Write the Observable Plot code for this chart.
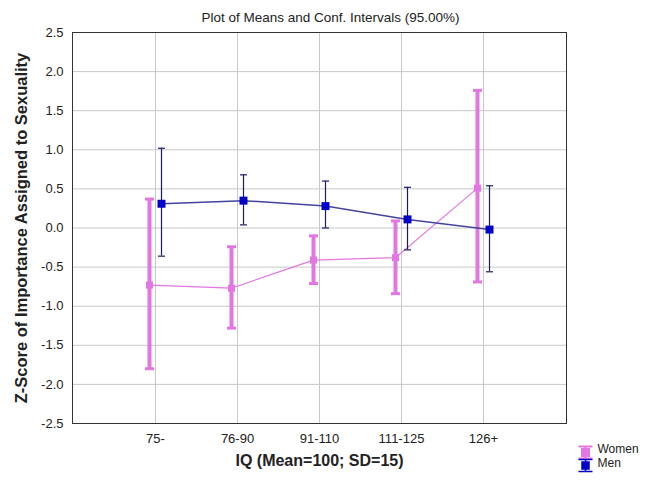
<!DOCTYPE html>
<html><head><meta charset="utf-8">
<script src="https://cdn.jsdelivr.net/npm/d3@7"></script>
<script src="https://cdn.jsdelivr.net/npm/@observablehq/plot@0.6"></script>
<style>body{margin:0;background:#fff} svg{display:block}</style>
</head><body><div id="chart"></div>
<script>
const categories = ["75-", "76-90", "91-110", "111-125", "126+"];
const seriesNames = ["Women", "Men"];
const womenMean = [-0.73, -0.77, -0.41, -0.38, 0.51];
const womenLow  = [-1.80, -1.28, -0.71, -0.84, -0.69];
const womenHigh = [0.37, -0.24, -0.10, 0.09, 1.76];
const menMean = [0.31, 0.35, 0.28, 0.11, -0.02];
const menLow  = [-0.36, 0.04, 0.00, -0.28, -0.56];
const menHigh = [1.02, 0.68, 0.60, 0.52, 0.54];
const yTicks = [2.5, 2.0, 1.5, 1.0, 0.5, 0.0, -0.5, -1.0, -1.5, -2.0, -2.5];
const titleText = "Plot of Means and Conf. Intervals (95.00%)";
const xLabel = "IQ (Mean=100; SD=15)";
const yLabel = "Z-Score of Importance Assigned to Sexuality";

const women = categories.map((c, i) => ({cat: c, mean: womenMean[i], lo: womenLow[i], hi: womenHigh[i]}));
const men = categories.map((c, i) => ({cat: c, mean: menMean[i], lo: menLow[i], hi: menHigh[i]}));

const WOMEN = "#e277e2";
const MEN_BAR = "#1c1c64";
const MEN_DOT = "#0000c8";
const MEN_LINE = "#4444a0";

const cap = {draw(ctx, size) { const r = Math.sqrt(size / Math.PI); ctx.moveTo(-r, 0); ctx.lineTo(r, 0); }};
const icon = {draw(ctx, size) {
  ctx.moveTo(-7, -6); ctx.lineTo(7, -6);
  ctx.moveTo(-7, 6); ctx.lineTo(7, 6);
  ctx.moveTo(0, -6); ctx.lineTo(0, 6);
  ctx.moveTo(-3.5, -3.5); ctx.lineTo(3.5, -3.5); ctx.lineTo(3.5, 3.5); ctx.lineTo(-3.5, 3.5); ctx.closePath();
}};

const font = "'Liberation Sans', Arial, sans-serif";

const chart = Plot.plot({
  width: 650,
  height: 481,
  marginLeft: 72,
  marginRight: 84,
  marginTop: 32,
  marginBottom: 58,
  style: {fontFamily: font, fontSize: "12px", color: "#222", background: "#fff"},
  x: {type: "point", domain: categories, padding: 1, axis: null},
  y: {domain: [-2.5, 2.5], axis: null},
  marks: [
    Plot.gridY(yTicks, {stroke: "#c8c8c8", strokeOpacity: 1}),
    Plot.gridX(categories, {stroke: "#c8c8c8", strokeOpacity: 1}),
    Plot.frame({stroke: "#333", strokeWidth: 1}),
    Plot.axisY(yTicks, {tickSize: 0, tickPadding: 9, fontSize: 13, tickFormat: d => d.toFixed(1), label: null}),
    Plot.axisX(categories, {tickSize: 0, tickPadding: 10, fontSize: 13, label: null}),
    // Women
    Plot.ruleX(women, {x: "cat", y1: "lo", y2: "hi", dx: -6, stroke: WOMEN, strokeWidth: 4}),
    Plot.dot(women, {x: "cat", y: "lo", dx: -6, symbol: cap, r: 4.5, stroke: WOMEN, strokeWidth: 3}),
    Plot.dot(women, {x: "cat", y: "hi", dx: -6, symbol: cap, r: 4.5, stroke: WOMEN, strokeWidth: 3}),
    Plot.line(women, {x: "cat", y: "mean", dx: -6, stroke: WOMEN, strokeWidth: 1.2}),
    Plot.dot(women, {x: "cat", y: "mean", dx: -6, symbol: "square", r: 4, fill: WOMEN, stroke: "none"}),
    // Men
    Plot.ruleX(men, {x: "cat", y1: "lo", y2: "hi", dx: 6, stroke: MEN_BAR, strokeWidth: 1.2}),
    Plot.dot(men, {x: "cat", y: "lo", dx: 6, symbol: cap, r: 3.5, stroke: MEN_BAR, strokeWidth: 1.2}),
    Plot.dot(men, {x: "cat", y: "hi", dx: 6, symbol: cap, r: 3.5, stroke: MEN_BAR, strokeWidth: 1.2}),
    Plot.line(men, {x: "cat", y: "mean", dx: 6, stroke: MEN_LINE, strokeWidth: 1.5}),
    Plot.dot(men, {x: "cat", y: "mean", dx: 6, symbol: "square", r: 4.5, fill: MEN_DOT, stroke: "none"}),
    // Title & labels
    Plot.text([titleText], {text: d => d, frameAnchor: "top", dx: 11, dy: -20, fontSize: 13.5, fill: "#222"}),
    Plot.text([xLabel], {text: d => d, frameAnchor: "bottom", dy: 42, fontSize: 16, fontWeight: "bold", fill: "#222"}),
    Plot.text([yLabel], {text: d => d, frameAnchor: "left", textAnchor: "middle", dx: -51, rotate: -90, fontSize: 16.5, fontWeight: "bold", fill: "#222"}),
    // Legend
    Plot.dot([seriesNames[0]], {frameAnchor: "bottom-right", dx: 19, dy: 29, symbol: icon, r: 5, stroke: WOMEN, fill: WOMEN, strokeWidth: 2}),
    Plot.text([seriesNames[0]], {text: d => d, frameAnchor: "bottom-right", dx: 31, dy: 29, textAnchor: "start", fontSize: 12, fill: "#222"}),
    Plot.dot([seriesNames[1]], {frameAnchor: "bottom-right", dx: 19, dy: 42, symbol: icon, r: 5, stroke: MEN_DOT, fill: MEN_DOT, strokeWidth: 1.5}),
    Plot.text([seriesNames[1]], {text: d => d, frameAnchor: "bottom-right", dx: 31, dy: 43, textAnchor: "start", fontSize: 12, fill: "#222"})
  ]
});
document.getElementById("chart").appendChild(chart);
</script>
</body></html>
